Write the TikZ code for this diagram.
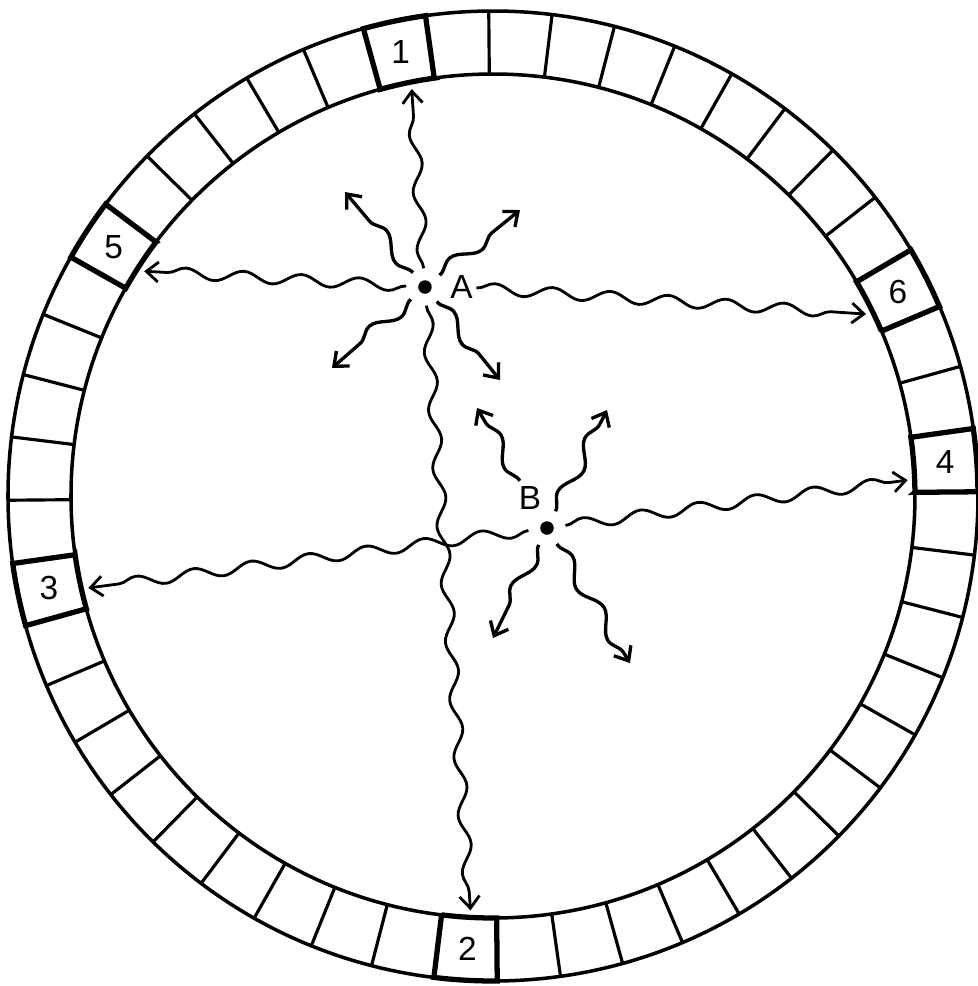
\documentclass[tikz,border=0pt]{standalone}
\usepackage{fontspec}
\setmainfont{Liberation Sans}
\usetikzlibrary{arrows.meta,decorations.pathmorphing,positioning}
\tikzset{
  photon/.style={decorate, line width=.8pt,
    decoration={snake, amplitude=.55mm, segment length=5.8mm, post length=1.5mm},
    -{Straight Barb[length=1.2mm,width=2mm]}},
  shortph/.style={photon, line width=.95pt,
    decoration={snake, amplitude=.7mm, segment length=6mm, post length=1.2mm}},
  dot/.style={circle, fill, inner sep=0pt, minimum size=1.35mm, outer sep=1.2mm},
  cellnum/.style={font=\fontsize{9.5}{10}\selectfont},
}

\begin{document}
\begin{tikzpicture}
        \useasboundingbox (-4.93,-4.90) rectangle (4.85,4.96);

        \draw[line width=1pt] (0,0) circle (4.85) (0,0) circle (4.22);
        \foreach \i in {0,...,47}
            \draw[line width=.9pt] (90.5+7.5*\i:4.22) -- (90.5+7.5*\i:4.85);

        \foreach \k/\lab/\tip in {1/1/101.3, 23/2/266.9, 13/3/192.8, 36/4/2.2, 7/5/147.2, 39/6/26.0}{
            \pgfmathsetmacro\a{90.5+7.5*\k}
            \pgfmathsetmacro\b{\a+7.5}
            \draw[line width=1.5pt] (\a:4.22) -- (\a:4.85) arc (\a:\b:4.85) -- (\b:4.22) arc (\b:\a:4.22) -- cycle;
            \node[cellnum] (c\lab) at (\a+3.75:4.535) {\lab};
            \coordinate (t\lab) at (\tip:4.15);
        }

        \node[dot] (A) at (-0.68,2.09) {};
        \node[dot] (B) at (0.54,-0.32) {};
        \node[cellnum, inner sep=.3mm, right=0.3mm of A] (la) {A};
        \node[cellnum, inner sep=.5mm] (lb) at (0.37,-0.02) {B};

        \coordinate (a1) at (-1.48,3.04);
        \coordinate (a2) at (0.27,2.86);
        \coordinate (a3) at (-1.61,1.28);
        \coordinate (a4) at (0.07,1.16);
        \coordinate (b1) at (-0.16,0.88);
        \coordinate (b2) at (1.14,0.86);
        \coordinate (b3) at (0.00,-1.42);
        \coordinate (b4) at (1.37,-1.67);

        \draw[photon] (A) -- (t1);
        \draw[photon] (A) -- (t2);
        \draw[photon] (A) -- (t5);
        \draw[photon] (la) -- (t6);
        \draw[photon] (B) -- (t3);
        \draw[photon] (B) -- (t4);

        \foreach \p in {a1,a2,a3,a4}
            \draw[shortph] (A) -- (\p);
        \draw[shortph] (lb) -- (b1);
        \foreach \p in {b2,b3,b4}
            \draw[shortph] (B) -- (\p);
    \end{tikzpicture}
\end{document}
